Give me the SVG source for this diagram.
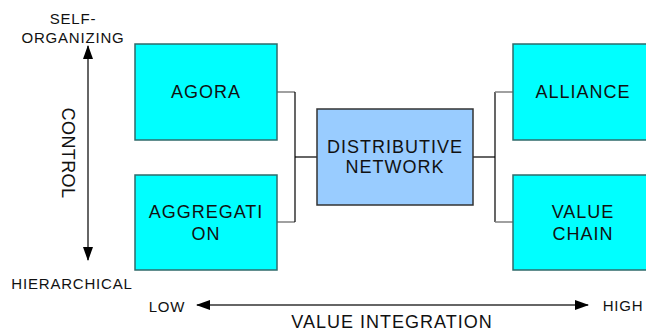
<svg xmlns="http://www.w3.org/2000/svg" width="646" height="331" viewBox="0 0 646 331">
  <style>
    .box { fill: #00FFFF; stroke: #2F6B6B; stroke-width: 1.5; }
    .dn { fill: #99CCFF; stroke: #333333; stroke-width: 1.5; }
    .lbl { font-family: "Liberation Sans", Arial, sans-serif; font-size: 18px; letter-spacing: 1px; fill: #111; text-anchor: middle; }
    .sm { font-family: "Liberation Sans", Arial, sans-serif; font-size: 15px; letter-spacing: 0.8px; fill: #111; text-anchor: middle; }
    .stub { stroke: #808080; stroke-width: 1.5; fill: none; }
    .ln { stroke: #000; stroke-width: 1.2; fill: none; }
    .axis { stroke: #333; stroke-width: 1.5; fill: none; marker-start: url(#ah); marker-end: url(#ah); }
  </style>
  <defs>
    <marker id="ah" markerUnits="userSpaceOnUse" markerWidth="14" markerHeight="10" refX="13" refY="5" orient="auto-start-reverse">
      <path d="M0,0 L14,5 L0,10 z" fill="#000"/>
    </marker>
  </defs>
  <rect width="646" height="331" fill="#fff"/>

  <g id="connectors">
    <path class="stub" d="M277,92 H295"/>
    <path class="stub" d="M277,222 H295"/>
    <path class="ln" d="M295,92 V222"/>
    <path class="ln" d="M295,157 H317"/>
    <path class="ln" d="M473,157 H495"/>
    <path class="ln" d="M495,92 V222"/>
    <path class="stub" d="M495,92 H513"/>
    <path class="stub" d="M495,222 H513"/>
  </g>

  <g id="agora">
    <rect class="box" x="135" y="44" width="142" height="96"/>
    <text class="lbl" x="206" y="98">AGORA</text>
  </g>
  <g id="aggregation">
    <rect class="box" x="135" y="175" width="142" height="95"/>
    <text class="lbl" x="206" y="218">AGGREGATI</text>
    <text class="lbl" x="206" y="240">ON</text>
  </g>
  <g id="distributive-network">
    <rect class="dn" x="317" y="109" width="156" height="96"/>
    <text class="lbl" x="395" y="153">DISTRIBUTIVE</text>
    <text class="lbl" x="395" y="173">NETWORK</text>
  </g>
  <g id="alliance">
    <rect class="box" x="513" y="44" width="142" height="96"/>
    <text class="lbl" x="583" y="98">ALLIANCE</text>
  </g>
  <g id="value-chain">
    <rect class="box" x="513" y="175" width="142" height="95"/>
    <text class="lbl" x="583" y="218">VALUE</text>
    <text class="lbl" x="583" y="240">CHAIN</text>
  </g>

  <g id="control-axis">
    <line class="axis" x1="88" y1="46" x2="88" y2="260"/>
    <text class="sm" x="73" y="24">SELF-</text>
    <text class="sm" x="73" y="43">ORGANIZING</text>
    <text class="sm" x="72" y="289">HIERARCHICAL</text>
    <text class="lbl" transform="translate(62,153) rotate(90)" style="letter-spacing:0.4px">CONTROL</text>
  </g>

  <g id="integration-axis">
    <line class="axis" x1="197" y1="305" x2="588" y2="305"/>
    <text class="sm" x="167" y="312">LOW</text>
    <text class="sm" x="623" y="311">HIGH</text>
    <text class="lbl" x="392" y="328">VALUE INTEGRATION</text>
  </g>
</svg>
